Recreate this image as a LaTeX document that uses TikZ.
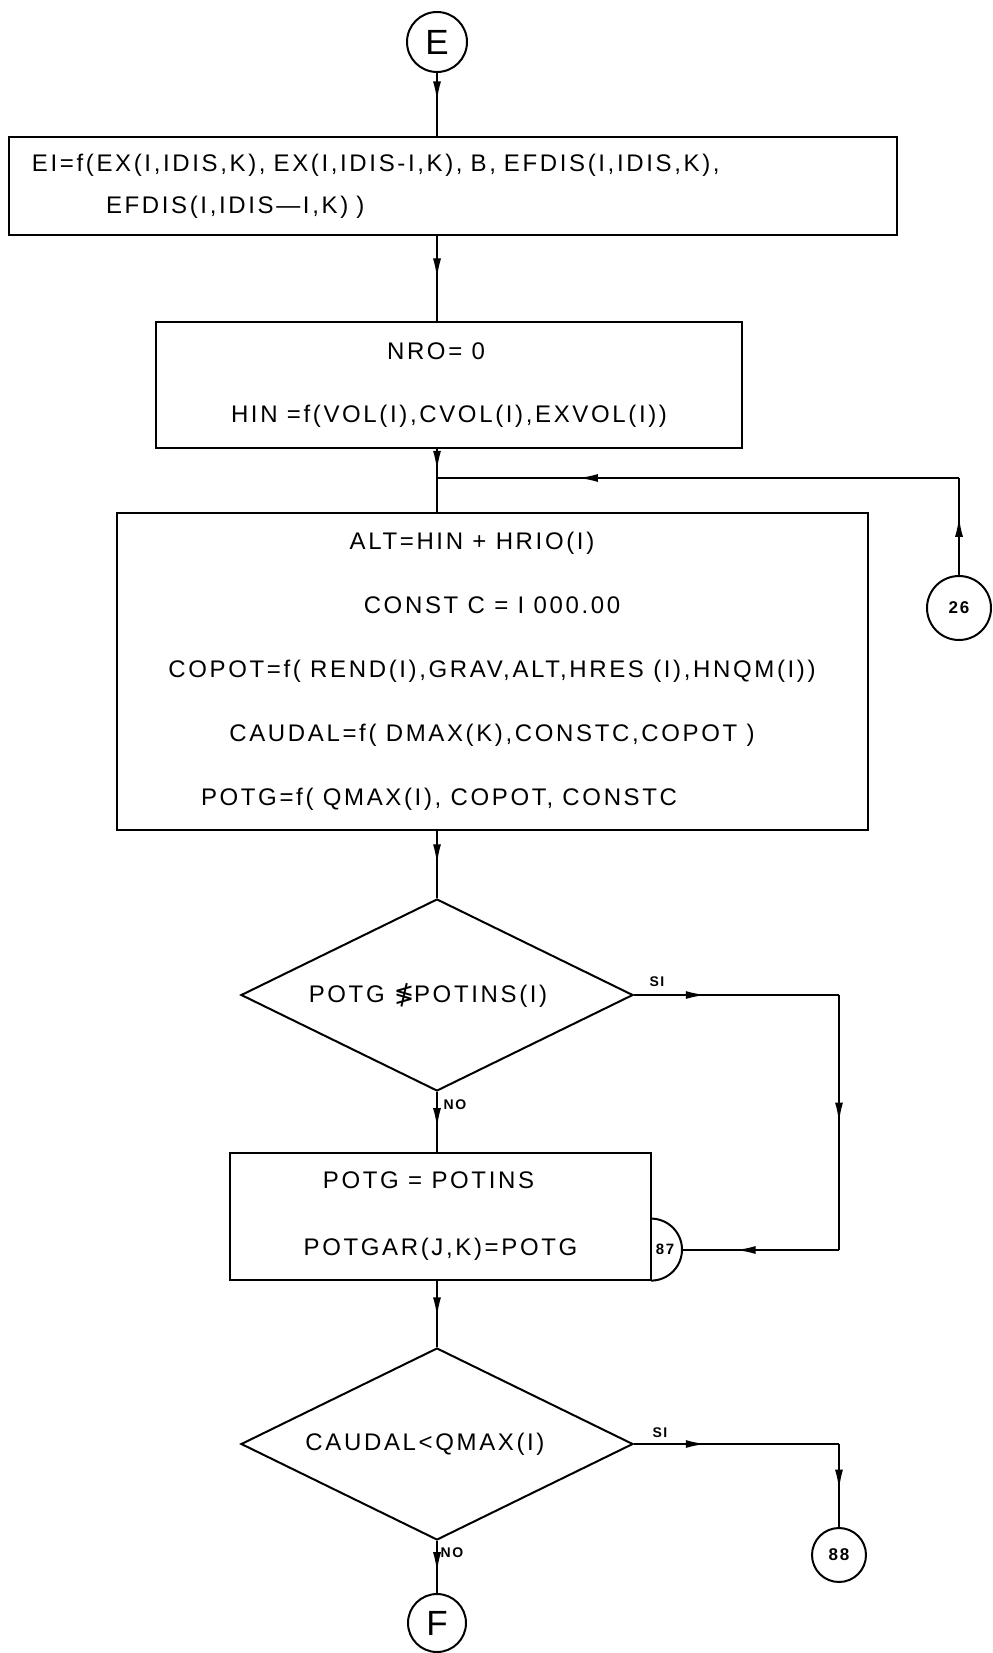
\documentclass[tikz,border=0pt]{standalone}
\usepackage{fontspec}
\setmainfont{Liberation Sans}[LetterSpace=11]
\newfontfamily\symfont{DejaVu Sans}
\usetikzlibrary{shapes.geometric, arrows.meta, decorations.markings}

\tikzset{
  proc/.style={draw, line width=1pt, rectangle, inner sep=0pt, align=center, font=\fontsize{12}{32}\selectfont},
  decis/.style={draw, line width=1pt, diamond, aspect=2, inner sep=0pt, minimum width=196pt, minimum height=96pt, font=\fontsize{12}{14}\selectfont},
  conn/.style={draw, line width=1pt, circle, inner sep=0pt},
  flow/.style={line width=1pt, postaction={decorate}, decoration={markings, mark=at position #1 with {\arrow{Latex[length=10pt,width=4pt]}}}},
  flow/.default=0.5,
  tag/.style={font=\fontsize{7}{8}\selectfont\bfseries, inner sep=1pt},
}

\begin{document}
\begin{tikzpicture}[x=0.5pt, y=-0.5pt]
  \useasboundingbox (0,0) rectangle (992,1653);
  % connectors in / out
  \node[conn, minimum size=30pt, font=\fontsize{17.5}{18}\selectfont] (e) at (437,42) {E};
  \node[conn, minimum size=32pt, font=\fontsize{8.5}{9}\selectfont\bfseries] (c26) at (959,608) {26};
  \node[conn, minimum size=27pt, font=\fontsize{8.5}{9}\selectfont\bfseries] (c88) at (839,1555) {88};
  \node[conn, minimum size=29pt, font=\fontsize{17.5}{18}\selectfont] (f) at (437,1623) {F};
  % process boxes
  \node[proc, minimum width=444pt, minimum height=49pt, align=left, inner xsep=11.5pt, text width=421pt, font=\fontsize{12}{21}\selectfont] (ei) at (453,186) {EI=f(EX(I,IDIS,K), EX(I,IDIS-I,K), B, EFDIS(I,IDIS,K),\\\hspace*{37pt}EFDIS(I,IDIS—I,K) )};
  \node[proc, minimum width=293pt, minimum height=63pt, font=\fontsize{12}{31.5}\selectfont] (nro) at (449,385) {NRO= 0\hspace*{13pt}\\HIN =f(VOL(I),CVOL(I),EXVOL(I))};
  \node[proc, minimum width=375.5pt, minimum height=158.5pt] (alt) at (492,671) {ALT=HIN + HRIO(I)\hspace*{20pt}\\CONST C = I 000.00\hspace*{8pt}\\COPOT=f( REND(I),GRAV,ALT,HRES (I),HNQM(I))\\CAUDAL=f( DMAX(K),CONSTC,COPOT )\hspace*{7pt}\\POTG=f( QMAX(I), COPOT, CONSTC\hspace*{53pt}};
  \node[decis] (d1) at (437,995) {POTG {\symfont ≸}POTINS(I)\hspace*{9pt}};
  \node[proc, minimum width=210.5pt, minimum height=63.5pt, font=\fontsize{12}{33.5}\selectfont] (potg) at (440.5,1216.5) {POTG = POTINS\hspace*{12pt}\\POTGAR(J,K)=POTG};
  \node[decis] (d2) at (437,1444) {CAUDAL<QMAX(I)\hspace*{12pt}};
  % connector 87 on the box side
  \node[circle, inner sep=0pt, minimum size=31pt] (c87) at (651,1250) {};
  \draw[line width=1pt] (c87.north) arc[start angle=90, end angle=-90, radius=15.5pt];
  \node[font=\fontsize{7.5}{8}\selectfont\bfseries, inner sep=0pt] (n87) at (665,1249) {87};
  % labels
  \node[tag] (si1) at (657,982) {SI};
  \node[tag] (no1) at (455,1105) {NO};
  \node[tag] (si2) at (660,1433) {SI};
  \node[tag] (no2) at (452,1553) {NO};
  \coordinate (jn) at (437,478);
  \coordinate (fb) at (959,478);
  \coordinate (s1a) at (839,995);
  \coordinate (s1b) at (839,1250);
  \coordinate (s2a) at (839,1444);
  % flow lines
  \draw[flow=0.45] (e) -- (e |- ei.north);
  \draw[flow=0.5] (ei.south -| e) -- (nro.north -| e);
  \draw[flow=0.75] (nro.south -| e) -- (jn);
  \draw[line width=1pt] (jn) -- (alt.north -| jn);
  \draw[flow=0.6] (c26) -- (fb);
  \draw[flow=0.73] (fb) -- (jn);
  \draw[flow=0.5] (alt.south -| e) -- (d1.north);
  \draw[flow=0.35] (d1.east) -- (s1a);
  \draw[flow=0.5] (s1a) -- (s1b);
  \draw[flow=0.66] (s1b) -- (c87.east);
  \draw[flow=0.6] (d1.south) -- (potg.north -| d1);
  \draw[flow=0.55] (potg.south -| e) -- (d2.north);
  \draw[flow=0.35] (d2.east) -- (s2a);
  \draw[flow=0.55] (s2a) -- (c88);
  \draw[flow=0.6] (d2.south) -- (f);
\end{tikzpicture}
\end{document}
